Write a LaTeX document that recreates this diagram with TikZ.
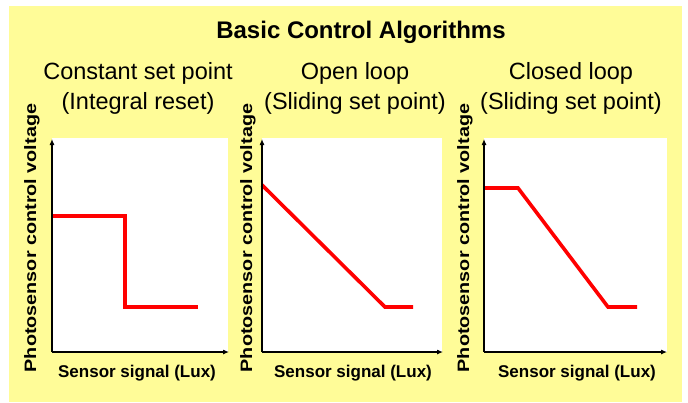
\documentclass[tikz,border=0pt]{standalone}
\usepackage{fontspec}
\setmainfont{Liberation Sans}
\usetikzlibrary{arrows.meta}
\definecolor{panelyellow}{HTML}{FFFC98}
\tikzset{
  axisline/.style={line width=1.1pt, black, -{Latex[length=6pt,width=5pt]}},
  curve/.style={line width=3.6pt, red, line join=miter, line cap=butt},
  plotarea/.style={fill=white, draw=none},
  titletext/.style={font=\fontsize{24}{28}\selectfont\bfseries, anchor=base, inner sep=0pt},
  subtext/.style={font=\fontsize{23.5}{29.5}\selectfont, align=center, anchor=base, inner sep=0pt},
  ylabel/.style={font=\fontsize{16.5}{19}\selectfont\bfseries, rotate=90, xscale=1.2, inner sep=0pt},
  xlabel/.style={font=\fontsize{17}{20}\selectfont\bfseries, anchor=base, inner sep=0pt}
}
\begin{document}
\begin{tikzpicture}[x=1pt, y=-1pt]
  \useasboundingbox (0,0) rectangle (688,402);
  \fill[white] (0,0) rectangle (688,402);
  \fill[panelyellow] (9,6) rectangle (682,402);

  \node[titletext] (title) at (361,38) {Basic Control Algorithms};

  % ---- panel 1: constant set point ----
  \fill[plotarea] (52,138) rectangle (228,352);
  \coordinate (o1) at (52,352);
  \coordinate (y1) at (52,139);
  \coordinate (x1) at (229,352);
  \draw[curve] (52,216) -- (125,216) -- (125,307) -- (198,307);
  \draw[axisline] (o1) -- (y1);
  \draw[axisline] (o1) -- (x1);
  \node[subtext] (s1a) at (138,79) {Constant set point};
  \node[subtext] (s1b) at (138,109) {(Integral reset)};
  \node[ylabel] (v1) at (32,238) {Photosensor control voltage};
  \node[xlabel] (h1) at (137,377) {Sensor signal (Lux)};

  % ---- panel 2: open loop ----
  \fill[plotarea] (262,138) rectangle (442,352);
  \coordinate (o2) at (262,352);
  \coordinate (y2) at (262,139);
  \coordinate (x2) at (443,352);
  \draw[curve] (262,185) -- (385,307) -- (413,307);
  \draw[axisline] (o2) -- (y2);
  \draw[axisline] (o2) -- (x2);
  \node[subtext] (s2a) at (355,79) {Open loop};
  \node[subtext] (s2b) at (355,109) {(Sliding set point)};
  \node[ylabel] (v2) at (248,238) {Photosensor control voltage};
  \node[xlabel] (h2) at (353,377) {Sensor signal (Lux)};

  % ---- panel 3: closed loop ----
  \fill[plotarea] (484,138) rectangle (667,352);
  \coordinate (o3) at (484,352);
  \coordinate (y3) at (484,139);
  \coordinate (x3) at (667,352);
  \draw[curve] (484,188) -- (518,188) -- (608,307) -- (637,307);
  \draw[axisline] (o3) -- (y3);
  \draw[axisline] (o3) -- (x3);
  \node[subtext] (s3a) at (571,79) {Closed loop};
  \node[subtext] (s3b) at (571,109) {(Sliding set point)};
  \node[ylabel] (v3) at (465,238) {Photosensor control voltage};
  \node[xlabel] (h3) at (577,377) {Sensor signal (Lux)};
\end{tikzpicture}
\end{document}
